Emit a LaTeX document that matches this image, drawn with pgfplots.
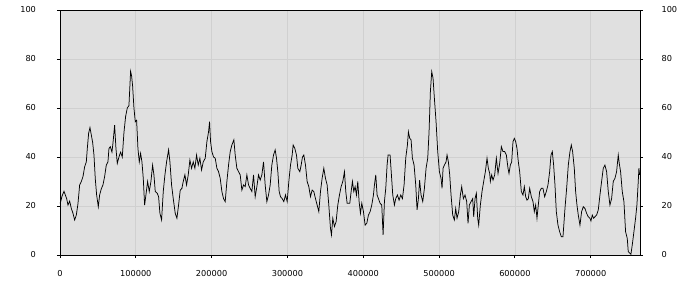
\documentclass[border=0pt]{standalone}
\usepackage{pgfplots}
\pgfplotsset{compat=1.18}
\usepackage{fontspec}
\setmainfont{DejaVu Sans}
\definecolor{bgc}{HTML}{E0E0E0}
\definecolor{gridc}{HTML}{D0D0D0}
\begin{document}
\begin{tikzpicture}[x=1pt,y=1pt]
\path[use as bounding box] (-60,-45) rectangle (640,255);
\pgfplotsset{
  common/.style={
    scale only axis, width=580pt, height=245pt,
    xmin=0, xmax=765000, ymin=0, ymax=100,
    ytick={0,20,...,100},
    xtick={0,100000,...,700000},
    tick align=outside, major tick length=3pt,
    /pgf/number format/assume math mode=true,
    tick label style={font=\fontsize{8.2}{10}\selectfont, text=black},
    axis line style={line width=0.9pt, black},
    tick style={black, line width=0.9pt},
  }
}
\begin{axis}[common,
  at={(0,0)}, anchor=south west,
  axis background/.style={fill=bgc},
  grid=major, grid style={gridc, line width=0.8pt},
  xtick pos=bottom, ytick pos=left,
  scaled x ticks=false,
  xticklabel style={/pgf/number format/fixed, /pgf/number format/1000 sep={}, yshift=-8.5pt},
  yticklabel style={xshift=-17.5pt},
]
\addplot[black, line width=0.75pt, no marks] table {
0 21
880 21.8
2640 24
5270 26
7030 24.5
8790 23
10540 20.4
12740 22
14940 19
17130 17
19330 14.3
21530 16.3
23720 21
25920 28.6
28120 30
30310 32
32510 36
34700 38
36020 43.5
37780 49.7
39540 52
41290 49
43050 46
44810 40.8
46570 31
48320 24.5
50520 19.7
52280 24.5
54470 27
56670 28.6
58870 32
61060 36.7
63260 38
64580 43.5
66330 44.2
68530 42
69850 45.6
72050 53
73800 43.5
75560 37.4
77760 40
79950 42
82150 40
84350 50
86540 56.5
88740 60
90940 61
93130 75
94460 73
95770 69
97530 60
99290 54.4
101050 55
102800 43.5
104560 38
106320 41.5
108080 38
109830 31.3
111590 20.4
113350 24.5
115540 30
117740 25.9
119940 30
122130 36.7
123890 32.7
125650 25.9
128280 25.2
130040 23.8
131800 17
133990 14.3
136190 25.9
138390 32.7
140580 38
143220 42.9
144980 38
147170 28.6
149370 23
152000 17
154200 15
156400 20.4
158590 26.5
160790 27.2
162550 30
164740 32.7
166940 28.6
169140 32.7
171330 38.8
173530 35.4
175730 38
177920 35.4
180120 40.8
182320 36.7
184510 39.5
186710 34.7
188910 38
191550 39.5
193750 46.3
195950 50.3
197260 54.4
198580 46.3
200340 42.2
202540 40
204730 39.5
206930 35.4
209130 34
211320 31.3
213520 25.9
215720 23
217910 21.8
220110 30
222310 36.7
224500 42.2
226700 44.9
229330 47
231090 40.8
233290 35.4
235490 34
237680 32.7
239880 26.5
242080 28.6
244270 27.9
246470 32.7
248670 28.6
250860 27.2
253060 25.9
255260 32.7
257450 23.8
259650 27.9
261850 32.7
264040 30.6
266240 32.7
268440 38
270630 28.6
272830 21.8
275030 24.5
277220 28.6
279420 36.7
281620 40.8
283810 42.9
285560 39.5
287320 34
289080 25.9
290840 23.8
293030 23
295230 21.8
297430 24.5
299620 21.8
301820 30
304020 36.7
306210 40.8
307530 44.9
309730 43.5
311920 40.8
313680 35.4
316320 34
318070 36.7
319830 40
321590 40.8
323790 36.7
325980 30
328180 27.9
330380 23.8
332570 26.5
334770 25.9
336970 23
339160 20.4
341360 17.7
343560 25.9
345750 31.3
347950 35.4
350140 31.3
352340 28.6
354540 20.4
356730 10.9
358050 8.2
359810 15
362000 11.6
364200 13.6
366400 20.4
368590 24.5
370790 27.9
372990 30
375180 34
376940 25.9
378700 21.1
382220 21.1
383980 25.9
385740 30
387490 25.9
389250 27.9
391010 24.5
392770 30
394520 21.8
396280 17
398040 21.1
400230 17.7
402430 12.2
404630 12.9
406820 16.3
409020 17.7
411220 20.4
413410 24.5
414730 28.6
416490 32.7
418240 24.5
420000 23
422200 21.1
424390 20.4
426150 8.2
427910 21.8
429670 27.2
431420 36.7
432740 40.8
435370 40.8
437130 32.7
438890 24.5
441090 20.4
442840 23
445040 24.5
447240 22.4
449430 24.5
451630 23
453830 28.6
456020 39.5
458220 44.9
459540 50.3
461300 47.6
463050 47
464810 39.5
467010 36.7
469210 28.6
470960 18.4
472720 23
474300 30.5
476230 24.5
478430 21.8
480630 27.2
482820 35.4
485020 39.5
486780 50.3
488530 66.7
490290 74.8
492050 72.1
493810 63.9
496000 54.4
498200 42.2
500400 34
502590 31.3
503910 27.2
505230 35.4
506990 36.7
509180 38
510500 40.8
512260 38
514020 32.7
515770 24.5
517970 16.3
520170 14.3
521920 19
523680 15
525880 17.7
528080 24.5
529830 27.9
532030 23
534230 24.5
536420 21.8
538180 12.9
539940 20.4
542130 21.8
544330 23
545650 15.6
547410 23
549160 25.2
550920 15
552240 12.2
554440 20.4
556630 25.9
558830 30
561030 34
563220 39.5
564980 35.4
566740 33.3
567620 30
569380 32.7
571130 30.6
573330 32.7
575530 39.5
577720 33.3
579920 37.4
582120 44.2
584310 42.2
586510 42.2
588710 40.8
590900 35.4
592220 33.3
593980 36.7
595730 38
597490 46.3
599250 47.6
601010 46.3
602760 43.5
604520 38
606280 34
608480 25.9
610670 24.5
612430 27.9
614190 23.8
615940 22.4
617700 23
619460 27.2
621660 23.8
623850 21.8
625610 17.7
627370 20.4
629130 15
630880 20.4
632640 25.9
634840 27.2
637040 27.2
639230 23.8
641430 25.9
643630 28.6
645820 34
647580 40.8
649340 42.2
651090 36.7
652850 28.6
654610 17.7
656810 12.2
659000 9.5
661200 7.5
663400 7.5
664500 12.2
666030 19
668230 27.2
670430 36.7
672620 42.2
674380 44.9
676140 42.2
678330 35.4
680090 25.9
681850 20.4
683600 16.3
685800 12.2
688000 17.7
690200 19.7
692390 19
694590 17
696790 15.6
698980 15
700300 13.9
702050 16.3
703810 15
705570 15.6
707770 16.3
709960 18.4
712160 24.5
714360 30
716550 35.4
718750 36.7
720950 34
723140 25.9
725340 20.4
727540 23
729730 30
731930 31.3
734130 34
736320 40.8
737640 37.4
739400 34
741600 25.9
743790 21.8
745990 9.5
748190 6.8
749500 1.4
751700 0.7
753020 0.3
754780 4.1
756970 9.5
759170 15
760930 20.4
762690 30
763570 35.4
764450 32.7
};
\end{axis}
\begin{axis}[common,
  at={(0,0)}, anchor=south west,
  hide x axis,
  axis y line*=right,
  yticklabel style={xshift=15pt},
]
\end{axis}
\end{tikzpicture}
\end{document}
